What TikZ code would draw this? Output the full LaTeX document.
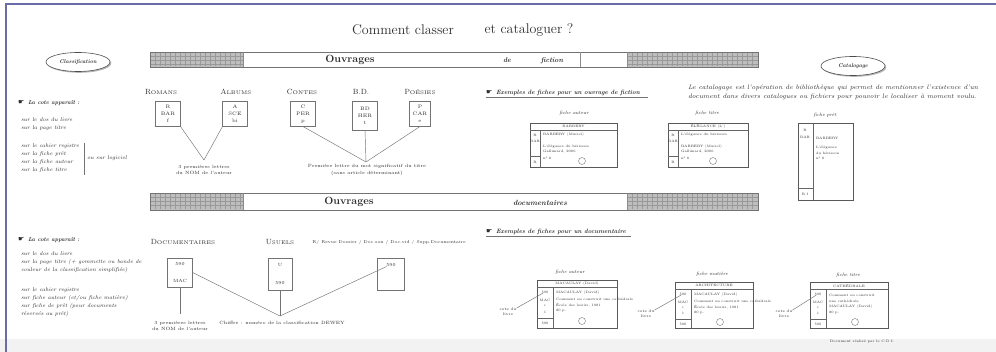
\documentclass[tikz,border=0pt]{standalone}
\usepackage{fontspec}
\newfontfamily\symfont{DejaVu Sans}
\usetikzlibrary{shapes.geometric,shadows}
\definecolor{framec}{HTML}{6B6BA8}
\definecolor{ink}{HTML}{2E2E2E}
\definecolor{barg}{HTML}{BEBEBE}
\newcommand\fs[1]{\fontsize{#1}{#1}\selectfont}
\newcommand\fsl[2]{\fontsize{#1}{#2}\selectfont}
\newcommand\smc[2]{{\fs{7.5}#1}{\fs{5.3}#2}}
\begin{document}
\begin{tikzpicture}[x=1pt,y=-1pt,
  every node/.style={inner sep=0pt,outer sep=0pt,text=ink},
  ovalx/.style={ellipse,draw=black!70,line width=0.6pt,fill=white,minimum width=64,minimum height=19,
    font=\fs{5.5}\bfseries\itshape,drop shadow={shadow xshift=1.3pt,shadow yshift=-1.3pt,fill=black!55}},
  barbox/.style={draw=black!55,line width=0.5pt,anchor=north west,minimum width=608},
  hand/.style={font=\symfont\fs{7},anchor=west},
  cote/.style={font=\fs{5.8}\bfseries\itshape,anchor=west},
  lt/.style={font=\fs{5.5}\itshape,anchor=west},
  cat/.style={font=\fs{6}},
  cotebox/.style={draw=black!55,line width=0.4pt,align=center,font=\fsl{5}{7},minimum width=25,minimum height=25},
  ctxt/.style={font=\fs{4.5}},
  conn/.style={draw=black!55,line width=0.45pt},
  note/.style={font=\fsl{4.6}{6.2},align=center},
  card/.style={draw=black!65,line width=0.45pt},
  cl/.style={draw=black!60,line width=0.35pt},
  ct/.style={font=\fs{3.4}},
  ctw/.style={font=\fs{3.4},anchor=west},
  flab/.style={font=\fs{4.8}\itshape},
  side/.style={font=\fsl{3.8}{5},align=center},
  tex/.style={draw=black!40,line width=0.25pt}
]
\useasboundingbox (0,0) rectangle (996,352);
\fill[white] (0,0) rectangle (996,352);
\fill[black!5] (0,339) rectangle (996,352);
\draw[framec,line width=1.6pt] (6,352) -- (6,4) -- (996,4);

% title
\node[font=\fs{14}] (title1) at (403,30) {Comment classer};
\node[font=\fs{14}] (title2) at (529,30) {et cataloguer ?};

% ovals
\node[ovalx] (classif) at (78,62) {Classification};
\node[ovalx] (catal) at (853,66) {Catalogage};

% bar 1
\fill[barg] (150,52) rectangle (243,67);
\fill[barg] (627,52) rectangle (758,67);
\foreach \x in {155,160,...,240} \draw[tex] (\x,52.5) -- (\x,66.5);
\foreach \x in {632,637,...,755} \draw[tex] (\x,52.5) -- (\x,66.5);
\draw[tex] (150,56) -- (243,56) (150,60) -- (243,60) (150,64) -- (243,64)
           (627,56) -- (758,56) (627,60) -- (758,60) (627,64) -- (758,64);
\node[barbox,minimum height=15] (bar1) at (150,52) {};
\draw[black!45,line width=0.4pt] (243,52) -- (243,67) (580,52) -- (580,67) (627,52) -- (627,67);
\node[font=\fs{10.5}\bfseries] (ouv1) at (350,60) {Ouvrages};
\node[font=\fs{7}\bfseries\itshape] (de1) at (507,60.5) {de};
\node[font=\fs{7}\bfseries\itshape] (fic1) at (552,60.5) {fiction};

% bar 2
\fill[barg] (150,193) rectangle (243,210);
\fill[barg] (627,193) rectangle (758,210);
\foreach \x in {155,160,...,240} \draw[tex] (\x,193.5) -- (\x,209.5);
\foreach \x in {632,637,...,755} \draw[tex] (\x,193.5) -- (\x,209.5);
\draw[tex] (150,197.5) -- (243,197.5) (150,201.5) -- (243,201.5) (150,205.5) -- (243,205.5)
           (627,197.5) -- (758,197.5) (627,201.5) -- (758,201.5) (627,205.5) -- (758,205.5);
\node[barbox,minimum height=17] (bar2) at (150,193) {};
\draw[black!45,line width=0.4pt] (243,193) -- (243,210) (627,193) -- (627,210);
\node[font=\fs{10.5}\bfseries] (ouv2) at (349,202) {Ouvrages};
\node[font=\fs{7.5}\bfseries\itshape] (doc2) at (540,202.5) {documentaires};

% left column, section 1
\node[hand] (hand1) at (18,103) {☛};
\node[cote] (cote1) at (28,103.5) {La cote apparaît :};
\node[lt] (l1a) at (21,120) {sur le dos du livre};
\node[lt] (l1b) at (21,128) {sur la page titre};
\node[lt] (l1c) at (21,146) {sur le cahier registre};
\node[lt] (l1d) at (21,154) {sur la fiche prêt};
\node[lt] (l1e) at (21,162) {sur la fiche auteur};
\node[lt] (l1f) at (21,170.5) {sur la fiche titre};
\draw[conn] (84,143) -- (84,175);
\node[lt] (l1g) at (87,158.5) {ou sur logiciel};

% left column, section 2
\node[hand] (hand2) at (18,240) {☛};
\node[cote] (cote2) at (28,240.5) {La cote apparaît :};
\node[lt] (l2a) at (21,254) {sur le dos du livre};
\node[lt] (l2b) at (21,262) {sur la page titre (+ gommette ou bande de};
\node[lt] (l2c) at (21,270) {couleur de la classification simplifiée)};
\node[lt] (l2d) at (21,290) {sur le cahier registre};
\node[lt] (l2e) at (21,298) {sur fiche auteur (et/ou fiche matière)};
\node[lt] (l2f) at (21,306) {sur fiche de prêt (pour documents};
\node[lt] (l2g) at (21,314) {réservés au prêt)};

% fiction categories
\node[cat] (hRom) at (161,92) {\smc{R}{OMANS}};
\node[cat] (hAlb) at (236,92) {\smc{A}{LBUMS}};
\node[cat] (hCon) at (302,92) {\smc{C}{ONTES}};
\node[cat] (hBD) at (361,92) {\fs{7.5}B.D.};
\node[cat] (hPoe) at (420,92) {\smc{P}{OÉSIES}};
\node[cotebox] (bRom) at (168,114) {R\\BAR\\f};
\node[cotebox] (bAlb) at (235,114) {A\\SCE\\bi};
\node[cotebox] (bCon) at (303,114) {C\\PER\\p};
\node[cotebox,minimum height=29] (bBD) at (365,116) {BD\\HER\\t};
\node[cotebox,minimum width=21] (bPoe) at (420,114) {P\\CAR\\e};
\coordinate (m1) at (204,160);
\coordinate (m2) at (366,162);
\draw[conn] (bRom.south east) -- (m1);
\draw[conn] (bAlb.south west) -- (m1);
\draw[conn] (bCon.south) -- (m2);
\draw[conn] (bBD.south) -- (m2);
\draw[conn] (bPoe.south) -- (m2);
\node[note] (n1) at (204,170) {3 premières lettres\\du NOM de l'auteur};
\node[note] (n2) at (367,170) {Première lettre du mot significatif du titre\\(sans article déterminant)};

% documentary categories
\node[cat] (hDoc) at (183,242) {\smc{D}{OCUMENTAIRES}};
\node[cat] (hUsu) at (280,242) {\smc{U}{SUELS}};
\node[font=\fs{4.2}] (hRev) at (389,242) {R/ Revue Dossier / Doc.son / Doc.vid / Supp.Documentaire};
\node[cotebox,minimum height=29] (bDoc) at (180,272.5) {};
\node[ctxt] (bDocA) at (180,264) {590};
\node[ctxt] (bDocB) at (180,281) {MAC};
\node[cotebox,minimum width=24,minimum height=32] (bUsu) at (280,274) {};
\node[ctxt] (bUsuA) at (280,265) {U};
\node[ctxt] (bUsuB) at (280,283) {590};
\node[cotebox,minimum width=27,minimum height=32] (bRev) at (391,274) {};
\node[ctxt] (bRevA) at (391,265) {590};
\coordinate (m3) at (280,316);
\coordinate (m4) at (180,314);
\draw[conn] (bDoc.south) -- (m4);
\draw[conn] (bDoc.east) -- (m3);
\draw[conn] (bUsu.south) -- (m3);
\draw[conn] (bRevA.south west) -- (m3);
\node[note] (n3) at (180,326) {3 premières lettres\\du NOM de l'auteur};
\node[note] (n4) at (282,323) {Chiffre : numéro de la classification DEWEY};

% examples fiction
\node[hand] (hand3) at (486,93) {☛};
\node[cote,font=\fs{6.2}\bfseries\itshape] (ex1) at (496,93) {Exemples de fiches pour un ouvrage de fiction};
\draw[conn] (486,97.5) -- (648,97.5);
\node[font=\fsl{6.5}{8.5}\itshape,anchor=west,align=left] (catxt) at (688,92.5)
  {Le catalogage est l'opération de bibliothèque qui permet de mentionner l'existence d'un\\
   document dans divers catalogues ou fichiers pour pouvoir le localiser à moment voulu.};

\node[flab] (lfa) at (574,113) {fiche auteur};
\begin{scope}[shift={(530,123)}]
  \node[card,minimum width=87,minimum height=44] (fa) at (43.5,22) {};
  \draw[cl] (0,7) -- (87,7) (10,7) -- (10,44) (0,33) -- (10,33);
  \node[ct] (fa0) at (43.5,3.6) {BARBERY};
  \node[ct] (fa1) at (5,12) {R};
  \node[ct] (fa2) at (5,18) {BAR};
  \node[ct] (fa3) at (5,39) {R};
  \node[ctw] (fa4) at (13,12) {BARBERY (Muriel)};
  \node[ctw] (fa5) at (13,24) {L'élégance du hérisson};
  \node[ctw] (fa6) at (13,29) {Gallimard, 2006};
  \node[ctw] (fa7) at (13,35) {n° 8};
  \draw[cl] (52,38) circle (3.5);
\end{scope}

\node[flab] (lft) at (707,113) {fiche titre};
\begin{scope}[shift={(668,123)}]
  \node[card,minimum width=80,minimum height=44] (ft) at (40,22) {};
  \draw[cl] (0,7) -- (80,7) (10,7) -- (10,44) (0,33) -- (10,33);
  \node[ct] (ft0) at (40,3.6) {ÉLÉGANCE (L')};
  \node[ct] (ft1) at (5,12) {R};
  \node[ct] (ft2) at (5,18) {BAR};
  \node[ct] (ft3) at (5,39) {R};
  \node[ctw] (ft4) at (13,12) {L'élégance du hérisson};
  \node[ctw] (ft5) at (13,24) {BARBERY (Muriel)};
  \node[ctw] (ft6) at (13,29) {Gallimard, 2006};
  \node[ctw] (ft7) at (13,35) {n° 8};
  \draw[cl] (45,38) circle (3.5);
\end{scope}

\node[flab] (lfp) at (825,115) {fiche prêt};
\begin{scope}[shift={(798,123)}]
  \node[card,minimum width=55,minimum height=77] (fp) at (27.5,38.5) {};
  \draw[cl] (15,0) -- (15,77) (0,65) -- (15,65);
  \node[ct] (fp1) at (7,7) {R};
  \node[ct] (fp2) at (7,14) {BAR};
  \node[ct] (fp3) at (7,71) {R f};
  \node[ctw] (fp4) at (18,15) {BARBERY};
  \node[ctw] (fp5) at (18,25) {L'élégance};
  \node[ctw] (fp6) at (18,30) {du hérisson};
  \node[ctw] (fp7) at (18,35) {n° 8};
\end{scope}

% examples documentary
\node[hand] (hand4) at (486,232) {☛};
\node[cote,font=\fs{6.2}\bfseries\itshape] (ex2) at (496,232) {Exemples de fiches pour un documentaire};
\draw[conn] (486,236.5) -- (631,236.5);

\node[flab] (lda) at (570,272) {fiche auteur};
\begin{scope}[shift={(537,280)}]
  \node[card,minimum width=80,minimum height=48] (da) at (40,24) {};
  \draw[cl] (0,7) -- (80,7) (16,7) -- (16,48) (0,38) -- (16,38);
  \node[ct] (da0) at (40,3.6) {MACAULAY (David)};
  \node[ct] (da1) at (8,12) {590};
  \node[ct] (da2) at (8,20) {MAC};
  \node[ct] (da3) at (8,26) {c};
  \node[ct] (da4) at (8,32) {1};
  \node[ct] (da5) at (8,43) {590};
  \node[ctw] (da6) at (19,13) {MACAULAY (David)};
  \node[ctw] (da7) at (19,19) {Comment on construit une cathédrale};
  \node[ctw] (da8) at (19,25) {École des loisirs, 1981};
  \node[ctw] (da9) at (19,31) {80 p.};
  \draw[cl] (45,41) circle (3.5);
\end{scope}
\node[side] (sda) at (508,312) {cote du\\livre};
\draw[conn] (sda.north east) -- (da1);

\node[flab] (ldm) at (712,274) {fiche matière};
\begin{scope}[shift={(675,282)}]
  \node[card,minimum width=78,minimum height=46] (dm) at (39,23) {};
  \draw[cl] (0,7) -- (78,7) (16,7) -- (16,46) (0,37) -- (16,37);
  \node[ct] (dm0) at (39,3.6) {ARCHITECTURE};
  \node[ct] (dm1) at (8,12) {590};
  \node[ct] (dm2) at (8,20) {MAC};
  \node[ct] (dm3) at (8,26) {c};
  \node[ct] (dm4) at (8,31) {1};
  \node[ct] (dm5) at (8,42) {590};
  \node[ctw] (dm6) at (19,13) {MACAULAY (David)};
  \node[ctw] (dm7) at (19,19) {Comment on construit une cathédrale};
  \node[ctw] (dm8) at (19,25) {École des loisirs, 1981};
  \node[ctw] (dm9) at (19,31) {80 p.};
  \draw[cl] (45,40) circle (3.5);
\end{scope}
\node[side] (sdm) at (646,314) {cote du\\livre};
\draw[conn] (sdm.north east) -- (dm1);

\node[flab] (ldt) at (848,275) {fiche titre};
\begin{scope}[shift={(810,282)}]
  \node[card,minimum width=78,minimum height=46] (dt) at (39,23) {};
  \draw[cl] (0,7) -- (78,7) (16,7) -- (16,46) (0,37) -- (16,37);
  \node[ct] (dt0) at (39,3.6) {CATHÉDRALE};
  \node[ct] (dt1) at (8,12) {590};
  \node[ct] (dt2) at (8,20) {MAC};
  \node[ct] (dt3) at (8,26) {c};
  \node[ct] (dt4) at (8,31) {1};
  \node[ct] (dt5) at (8,42) {590};
  \node[ctw] (dt6) at (19,13) {Comment on construit};
  \node[ctw] (dt7) at (19,19) {une cathédrale};
  \node[ctw] (dt8) at (19,25) {MACAULAY (David)};
  \node[ctw] (dt9) at (19,31) {80 p.};
  \draw[cl] (45,40) circle (3.5);
\end{scope}
\node[side] (sdt) at (784,314) {cote du\\livre};
\draw[conn] (sdt.north east) -- (dt1);

\node[font=\fs{3.5}] (credit) at (862,342) {Document réalisé par le C.D.I.};
\end{tikzpicture}
\end{document}
